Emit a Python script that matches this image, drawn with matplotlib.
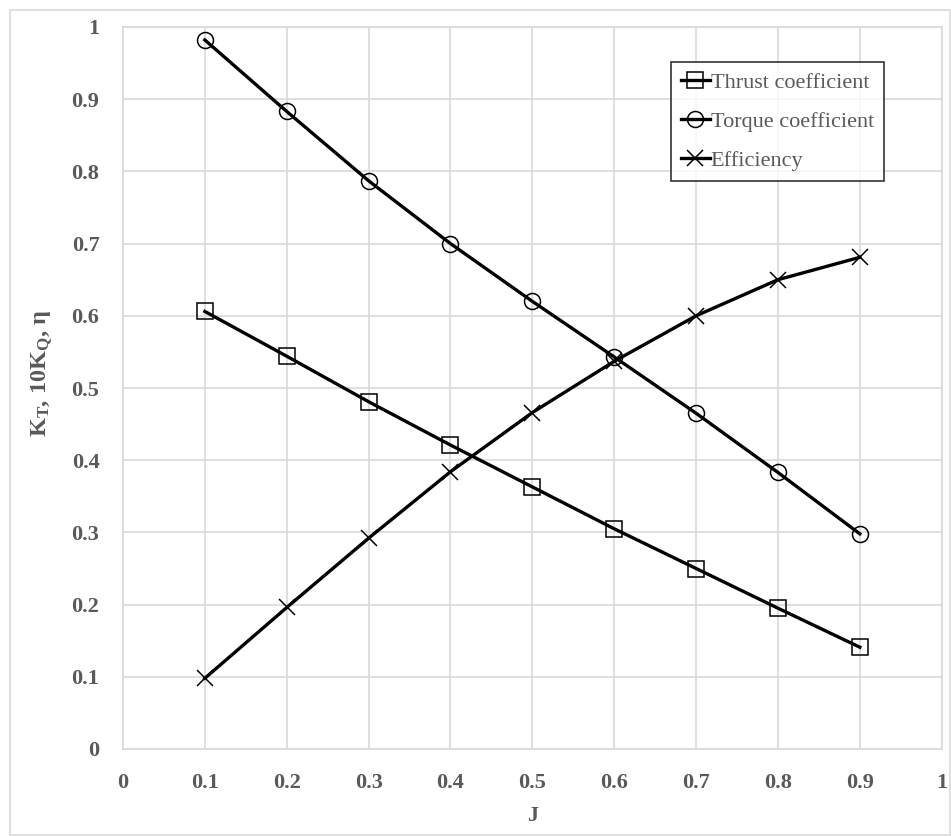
import matplotlib
matplotlib.use("Agg")
import matplotlib.pyplot as plt
from matplotlib.patches import Rectangle

plt.rcParams['font.family'] = ['Liberation Serif', 'DejaVu Serif']
plt.rcParams['mathtext.fontset'] = 'custom'
plt.rcParams['mathtext.rm'] = 'Liberation Serif'
plt.rcParams['mathtext.it'] = 'Liberation Serif:italic'
plt.rcParams['mathtext.bf'] = 'Liberation Serif:bold'

J = [0.1, 0.2, 0.3, 0.4, 0.5, 0.6, 0.7, 0.8, 0.9]
thrust = [0.606, 0.544, 0.481, 0.421, 0.363, 0.305, 0.250, 0.195, 0.141]
torque = [0.982, 0.883, 0.787, 0.700, 0.620, 0.543, 0.465, 0.383, 0.298]
efficiency = [0.098, 0.196, 0.292, 0.384, 0.466, 0.537, 0.600, 0.650, 0.681]
ticks = [0, 0.1, 0.2, 0.3, 0.4, 0.5, 0.6, 0.7, 0.8, 0.9, 1]
tick_labels = ['0', '0.1', '0.2', '0.3', '0.4', '0.5', '0.6', '0.7', '0.8', '0.9', '1']

W, H = 951, 836
fig = plt.figure(figsize=(W / 100, H / 100), dpi=100)
ax = fig.add_axes([123 / W, 1 - 749 / H, (941.7 - 123) / W, (749 - 27) / H])

grey = '#d9d9d9'
txt = '#595959'

fig.patches.append(Rectangle((10 / W, 1 / H), (W - 11) / W, (H - 11) / H,
                             transform=fig.transFigure, fill=False,
                             edgecolor=grey, linewidth=1.2))

common = dict(color='black', linewidth=2.4, markersize=11.5,
              markeredgewidth=1.1, fillstyle='none')
ax.plot(J, thrust, marker='s', label='Thrust coefficient', **common)
ax.plot(J, torque, marker='o', label='Torque coefficient', **common)
ax.plot(J, efficiency, marker='x', label='Efficiency',
        **{**common, 'markersize': 12})

ax.set_xlim(0, 1)
ax.set_ylim(0, 1)
ax.set_xticks(ticks)
ax.set_xticklabels(tick_labels)
ax.set_yticks(ticks)
ax.set_yticklabels(tick_labels)
ax.grid(True, color=grey, linewidth=1.2)
ax.set_axisbelow(True)
for s in ax.spines.values():
    s.set_color(grey)
    s.set_linewidth(1.2)
ax.tick_params(length=0, labelsize=16, labelcolor=txt, pad=17)
for lab in ax.get_xticklabels() + ax.get_yticklabels():
    lab.set_fontweight('bold')

ax.set_xlabel('J', fontsize=16, fontweight='bold', color=txt)
ax.xaxis.set_label_coords(0.5, -(806 - 749) / (749 - 27), transform=ax.transAxes)
ax.set_ylabel(r'$\mathbf{K_T}$, $\mathbf{10K_Q}$, $\mathbf{\eta}$', fontsize=17.5,
              fontweight='bold', color=txt)
ax.yaxis.set_label_coords(-(123 - 55) / (941.7 - 123), 0.52)

leg = ax.legend(loc='upper right', bbox_to_anchor=(884 / W, 1 - 62 / H),
                bbox_transform=fig.transFigure, fontsize=16, frameon=True,
                fancybox=False, edgecolor='black', handlelength=1.3,
                handletextpad=0.05, borderpad=0.45, labelspacing=0.84,
                borderaxespad=0)
leg.get_frame().set_linewidth(1.2)
for t in leg.get_texts():
    t.set_color(txt)

fig.savefig('out.png', dpi=100)
